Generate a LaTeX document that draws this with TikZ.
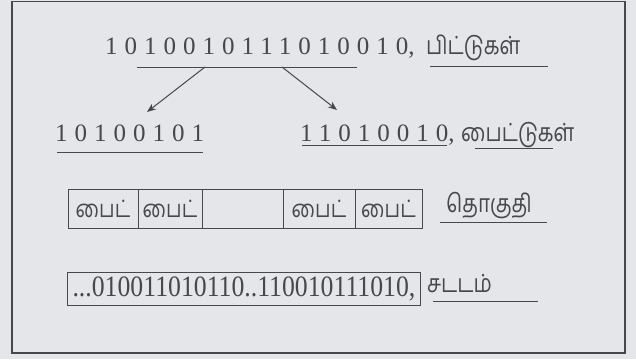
\documentclass[tikz,border=0pt]{standalone}
\usepackage{fontspec}
\setmainfont{Liberation Serif}
\newfontfamily\tamil[Script=Tamil]{Hind Madurai}
\usetikzlibrary{arrows.meta,positioning}
\definecolor{paper}{RGB}{228,230,233}
\definecolor{ink}{RGB}{72,72,74}
\newcommand{\narrow}[1]{\scalebox{0.82}[1]{#1}}

\begin{document}
\begin{tikzpicture}[x=1pt,y=-1pt,
    bits/.style={inner sep=0pt, anchor=base west, text=ink, font=\fontsize{25}{28}\selectfont\addfontfeature{LetterSpace=28}},
    word/.style={inner sep=0pt, anchor=base west, text=ink, font=\tamil\fontsize{25}{28}\selectfont},
    uline/.style={draw=ink, line width=0.9pt},
    arrow/.style={-{Stealth[length=9pt,width=7pt]}, draw=ink, line width=1pt},
    cell/.style={draw=ink, line width=0.9pt, minimum height=39pt, inner sep=0pt, outer sep=0pt, text=ink, font=\tamil\fontsize{24}{26}\selectfont}
  ]
    \fill[paper] (0,0) rectangle (636,359);
    \useasboundingbox (0,0) rectangle (636,359);
    \draw[ink, line width=1.4pt] (12,1.5) rectangle (625,353);

    % bits and bytes
    \node[bits] (allbits) at (105,54) {1010010111010010\addfontfeature{LetterSpace=0},};
    \node[word] (bitsword) at (426,54) {\narrow{பிட்டுகள்}};
    \node[bits] (lowbyte) at (55,141) {10100101};
    \node[bits] (highbyte) at (300,141) {11010010\addfontfeature{LetterSpace=0},};
    \node[word] (bytesword) at (461,141) {\narrow{பைட்டுகள்}};
    \draw[uline] (137,67) -- (357,67);
    \draw[uline] (430,66) -- (548,66);
    \draw[uline] (57,152) -- (203,152);
    \draw[uline] (302,145) -- (447,145);
    \draw[uline] (475,148) -- (553,148);
    \coordinate (splitL) at (205,67);
    \coordinate (splitR) at (282,67);
    \coordinate (tipL) at (147,112);
    \coordinate (tipR) at (337,110);
    \draw[arrow] (splitL) -- (tipL);
    \draw[arrow] (splitR) -- (tipR);

    % block of bytes
    \node[cell, minimum width=70pt, anchor=west] (c1) at (68,208.5) {\narrow{பைட்}};
    \node[cell, minimum width=64pt, right=0pt of c1] (c2) {\narrow{பைட்}};
    \node[cell, minimum width=81pt, right=0pt of c2] (c3) {};
    \node[cell, minimum width=72pt, right=0pt of c3] (c4) {\narrow{பைட்}};
    \node[cell, minimum width=67pt, right=0pt of c4] (c5) {\narrow{பைட்}};
    \node[word] (blockword) at (446,212) {\narrow{தொகுதி}};
    \draw[uline] (440,222) -- (547,222);

    % stream
    \node[draw=ink, line width=0.9pt, minimum width=353pt, minimum height=33pt, inner sep=0pt, anchor=north west, text=ink, font=\fontsize{29.6}{30}\selectfont] (stream) at (67,272) {\scalebox{0.87}[1]{...010011010110..110010111010,}};
    \node[word] (streamword) at (427,292) {\narrow{சடடம்}};
    \draw[uline] (433,301) -- (538,301);
  \end{tikzpicture}
\end{document}
